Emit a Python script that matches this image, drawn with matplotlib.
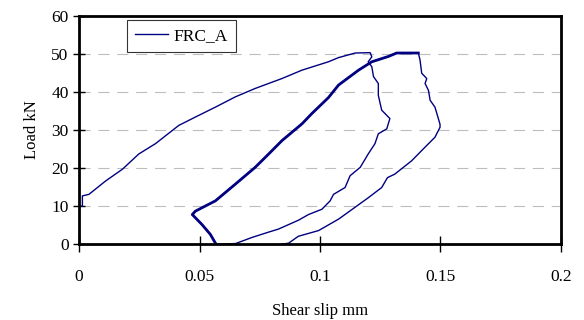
import matplotlib
matplotlib.use("Agg")
import matplotlib.pyplot as plt

# Load-slip history for specimen FRC_A (slip in mm, load in kN)
load_x = [0.0, 0.0, 0.0014, 0.0014, 0.0041, 0.011, 0.018, 0.0248, 0.0317, 0.0414,
          0.0483, 0.0566, 0.0649, 0.0731, 0.0842, 0.0925, 0.1035, 0.1077, 0.1146,
          0.1208, 0.1215, 0.120]
load_y = [0.0, 10.0, 10.0, 12.7, 13.1, 16.6, 19.7, 23.7, 26.4, 31.2,
          33.4, 36.0, 38.7, 40.9, 43.5, 45.7, 47.9, 49.0, 50.2,
          50.3, 49.2, 47.9]

unload1_x = [0.1215, 0.1222, 0.1242, 0.1242, 0.1256, 0.129, 0.1277, 0.1242, 0.1228,
             0.120, 0.1167, 0.1125, 0.1104, 0.1056, 0.1042, 0.1008, 0.0952, 0.091,
             0.0828, 0.0787, 0.0718, 0.065, 0.057]
unload1_y = [46.6, 44.0, 42.2, 39.1, 35.2, 33.0, 30.3, 29.0, 26.4,
             23.7, 20.2, 18.0, 14.9, 13.1, 11.4, 9.2, 7.8, 6.3,
             4.0, 3.2, 1.8, 0.2, 0.0]

reload_x = [0.057, 0.0566, 0.0545, 0.051, 0.047, 0.0483, 0.0566, 0.0649, 0.0731,
            0.0787, 0.0842, 0.0925, 0.0966, 0.1035, 0.1077, 0.116, 0.1215, 0.1284,
            0.1318, 0.1408]
reload_y = [0.0, 0.3, 2.6, 5.2, 7.8, 8.7, 11.4, 15.8, 20.2,
            23.7, 27.2, 31.6, 34.3, 38.5, 41.8, 45.7, 47.9, 49.3,
            50.2, 50.2]

unload2_x = [0.1408, 0.1415, 0.1422, 0.1443, 0.1436, 0.145, 0.1457, 0.1477, 0.1498,
             0.1498, 0.1477, 0.1436, 0.138, 0.131, 0.128, 0.1256, 0.120, 0.1077,
             0.0994, 0.091, 0.087, 0.084]
unload2_y = [50.2, 48.4, 44.9, 43.5, 42.2, 40.4, 37.8, 36.0, 31.5,
             30.7, 28.1, 25.5, 21.9, 18.4, 17.5, 14.9, 12.2, 6.6,
             3.6, 2.1, 0.3, 0.0]

x_ticks = [0, 0.05, 0.1, 0.15, 0.2]
x_tick_labels = ["0", "0.05", "0.1", "0.15", "0.2"]
y_ticks = [0, 10, 20, 30, 40, 50, 60]

navy = "#000080"
plt.rcParams["font.family"] = ["Liberation Serif", "DejaVu Serif"]

fig = plt.figure(figsize=(5.84, 3.2), dpi=100)
ax = fig.add_axes([0.1353, 0.2366, 0.8253, 0.7144])

all_x = load_x + unload1_x + reload_x + unload2_x
all_y = load_y + unload1_y + reload_y + unload2_y
ax.plot(all_x, all_y, color=navy, lw=1.0, label="FRC_A")
# the reloading branch is recorded in fine steps and reads heavier
ax.plot(reload_x, reload_y, color=navy, lw=2.0)

ax.set_xlim(0, 0.2)
ax.set_ylim(0, 60)
ax.set_xticks(x_ticks)
ax.set_xticklabels(x_tick_labels)
ax.set_yticks(y_ticks)

for y in y_ticks[1:-1]:
    ax.axhline(y, color="#bdbdbd", lw=0.8, ls=(0, (10, 7)), zorder=0)

for s in ax.spines.values():
    s.set_linewidth(2.0)
    s.set_color("black")

ax.tick_params(axis="x", direction="inout", length=11, width=1, labelsize=12.5, pad=12)
ax.tick_params(axis="y", direction="inout", length=9, width=1, labelsize=12.5, pad=3)

ax.set_xlabel("Shear slip mm", fontsize=12, labelpad=13)
ax.set_ylabel("Load kN", fontsize=12, labelpad=8)

leg = ax.legend(loc="upper left", bbox_to_anchor=(0.09, 1.0), fontsize=12.5,
                frameon=True, fancybox=False, handlelength=1.9,
                borderpad=0.45, handletextpad=0.35, borderaxespad=0.25)
leg.get_frame().set_edgecolor("black")
leg.get_frame().set_linewidth(0.8)

fig.savefig("out.png", dpi=100)
